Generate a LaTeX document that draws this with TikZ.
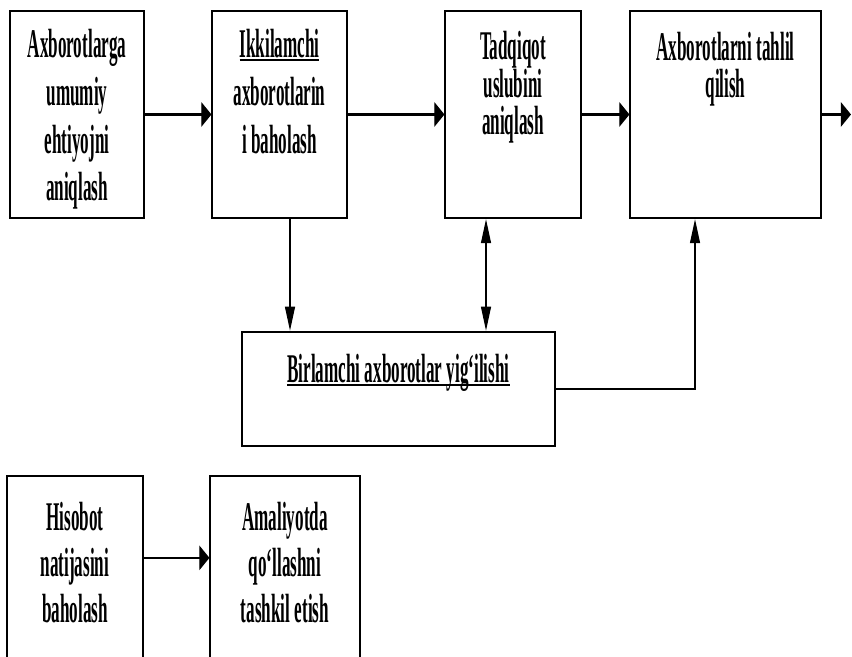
\documentclass[tikz,border=0pt]{standalone}
\usepackage{fontspec}
\setmainfont{Liberation Serif}
\usetikzlibrary{arrows.meta}

\newcommand{\undr}[1]{\setbox0\hbox{#1}\rlap{\rule[-2.5pt]{\wd0}{1.8pt}}\box0}

\tikzset{
  box/.style={draw, rectangle, inner sep=0pt, line width=1.8pt},
  lbl/.style={font=\fontsize{29}{34}\selectfont\bfseries, align=center, anchor=base, inner sep=0pt},
  lbltight/.style={lbl, font=\fontsize{29}{27}\selectfont\bfseries},
  flow/.style={line width=1.8pt, -{Triangle[length=0.6cm,width=0.6cm]}},
  bothflow/.style={line width=1.8pt, {Triangle[length=0.6cm,width=0.6cm]}-{Triangle[length=0.6cm,width=0.6cm]}},
}

\begin{document}
\begin{tikzpicture}
  \useasboundingbox (0,0) rectangle (21.3,-16.425);
  \clip (0,0) rectangle (21.3,-16.425);

  % narrow letters and heads: squeeze the whole chart sideways
  \begin{scope}[transform canvas={xscale=0.42}, x=0.0595238cm, y=-0.025cm]
  \node (b1) at (77,114.5)  [box, minimum width=7.976cm, minimum height=5.175cm] {};
  \node (b2) at (279.5,114.5) [box, minimum width=8.036cm, minimum height=5.175cm] {};
  \node (b3) at (513,114.5) [box, minimum width=8.095cm, minimum height=5.175cm] {};
  \node (b4) at (725.5,114.5) [box, minimum width=11.369cm, minimum height=5.175cm] {};
  \node (b5) at (398.5,389) [box, minimum width=18.631cm, minimum height=2.85cm] {};
  \node (b6) at (75,588)  [box, minimum width=8.095cm, minimum height=5.6cm] {}; % runs off the bottom
  \node (b7) at (285,588) [box, minimum width=8.929cm, minimum height=5.6cm] {}; % runs off the bottom
  \coordinate (exit) at (851,114.5);

  % labels sit on the baseline of their last line
  \node (t1) at (77,201) [lbl] {Axborotlarga\\umumiy\\ehtiyojni\\aniqlash};
  \node (t2) at (279.5,153.5) [lbl] {\undr{Ikkilamchi}\\axborotlarin\\i baholash};
  \node (t3) at (513,135) [lbltight] {Tadqiqot\\uslubini\\aniqlash};
  \node (t4) at (725.5,98) [lbltight] {Axborotlarni tahlil\\qilish};
  \node (t5) at (398.5,383) [lbl] {\undr{Birlamchi axborotlar yig‘ilishi}};
  \node (t6) at (75,623) [lbl, font=\fontsize{29}{33}\selectfont\bfseries] {Hisobot\\natijasini\\baholash};
  \node (t7) at (285,623) [lbl, font=\fontsize{29}{33}\selectfont\bfseries] {Amaliyotda\\qo‘llashni\\tashkil etish};

  \draw[flow] (b1) to (b2);
  \draw[flow] (b2) to (b3);
  \draw[flow] (b3) to (b4);
  \draw[flow] (b4) to (exit);

  \draw[flow] ([xshift=0.625cm]b2.south) to ([xshift=0.625cm]b2.south |- b5.north);
  \draw[bothflow] ([xshift=-1.607cm]b3.south) to ([xshift=-1.607cm]b3.south |- b5.north);
  \draw[flow] (b5.east) -| ([xshift=-1.815cm]b4.south);

  \draw[flow] ([yshift=0.75cm]b6.east) to ([yshift=0.75cm]b7.west);
  \end{scope}
\end{tikzpicture}
\end{document}
